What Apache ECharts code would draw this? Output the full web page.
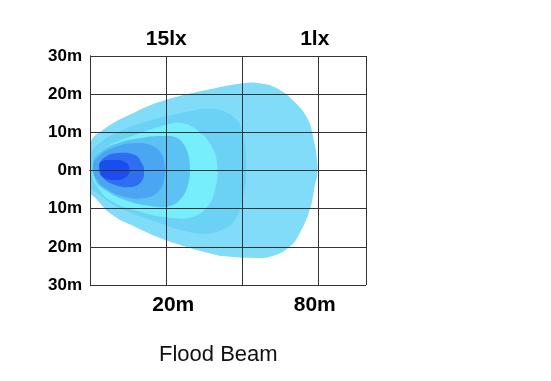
<!DOCTYPE html>
<html>
<head>
<meta charset="utf-8">
<script src="https://cdn.jsdelivr.net/npm/echarts@6/dist/echarts.min.js"></script>
<style>
html,body{margin:0;padding:0;background:#fff;}
#chart{width:551px;height:381px;}
</style>
</head>
<body>
<div id="chart"></div>
<script>
// Tick labels
const xTickLabels = ['', '20m', '', '80m'];
const topTickLabels = ['', '15lx', '', '1lx'];
const yTickLabels = ['30m', '20m', '10m', '0m', '10m', '20m', '30m'];
const titleText = 'Flood Beam';

// Beam contour outlines [x (grid units), y (m)], outermost first
const beam1 = [[0,6.7],[0.18,10.8],[0.59,15.27],[0.98,18.41],[1.64,21.54],[2.01,22.85],[2.23,22.85],[2.45,21.54],[2.66,18.41],[2.85,13.71],[2.93,8.49],[2.98,2.22],[2.98,-1.17],[2.95,-3.79],[2.89,-9.79],[2.76,-16.06],[2.62,-19.97],[2.36,-22.59],[2.10,-22.85],[1.84,-22.59],[1.64,-22.06],[0.98,-18.15],[0.59,-14.75],[0.29,-11.62],[0.07,-7.2],[0,-5.6]];
const beam2 = [[0,3.8],[0.13,7.2],[0.39,10.3],[0.79,13.19],[1.25,15.27],[1.57,16.2],[1.81,15.0],[1.97,11.88],[2.03,6.66],[2.05,0.13],[2.01,-6.40],[1.90,-12.92],[1.73,-15.54],[1.51,-16.58],[1.18,-15.54],[0.79,-12.92],[0.39,-9.8],[0.13,-6.4],[0,-3.8]];
const beam3 = [[0.03,1.44],[0.09,4.05],[0.26,6.66],[0.59,9.27],[0.98,11.88],[1.22,12.40],[1.44,10.05],[1.60,6.14],[1.67,0.91],[1.64,-5.09],[1.54,-9.53],[1.35,-12.14],[1.05,-12.40],[0.66,-10.84],[0.26,-7.70],[0.08,-3.79],[0.03,-1.17]];
const beam4 = [[0.04,2.22],[0.13,4.83],[0.33,6.92],[0.66,8.49],[0.98,9.01],[1.14,8.49],[1.25,6.14],[1.31,1.44],[1.29,-3.26],[1.21,-6.92],[1.05,-9.27],[0.79,-9.27],[0.46,-7.70],[0.20,-5.09],[0.07,-2.48]];
const beam5 = [[0.04,1.44],[0.13,4.05],[0.33,6.14],[0.59,7.18],[0.79,6.66],[0.92,4.83],[0.98,1.44],[0.97,-2.48],[0.89,-5.61],[0.72,-7.18],[0.46,-6.92],[0.24,-5.09],[0.09,-2.48]];
const beam6 = [[0.12,0.65],[0.18,3.26],[0.37,4.57],[0.59,4.05],[0.67,2.22],[0.71,-0.13],[0.67,-3.00],[0.54,-4.31],[0.33,-3.79],[0.16,-1.70]];
const beam7 = [[0.13,0.13],[0.14,2.22],[0.30,2.74],[0.46,2.22],[0.52,0.13],[0.47,-1.70],[0.34,-2.48],[0.17,-1.70]];

const beams = [beam1, beam2, beam3, beam4, beam5, beam6, beam7];
const beamColors = ['#80dcf8', '#6cd2f5', '#76eefb', '#5cc2f4', '#4aa6f2', '#2d6ef2', '#1a4cee'];

const FONT = '"Liberation Sans", Arial, sans-serif';

function tickText(labels, v) {
  const i = Math.round(v);
  if (Math.abs(v - i) > 1e-6) return '';
  return labels[i] || '';
}

const chart = echarts.init(document.getElementById('chart'), null, { renderer: 'canvas' });

const axisLineStyle = { show: true, lineStyle: { color: '#333', width: 1 } };
const splitLineStyle = { show: true, lineStyle: { color: '#333', width: 1 } };

const bottomRich = {
  s1: { fontSize: 21, fontWeight: 'bold', fontFamily: FONT, color: '#000', padding: [0, 0, 0, 14] },
  s3: { fontSize: 21, fontWeight: 'bold', fontFamily: FONT, color: '#000', padding: [0, 8, 0, 0] }
};
const topRich = {
  s1: { fontSize: 21, fontWeight: 'bold', fontFamily: FONT, color: '#000', padding: [0, 0, 0, 0] },
  s3: { fontSize: 21, fontWeight: 'bold', fontFamily: FONT, color: '#000', padding: [0, 8, 0, 0] }
};

chart.setOption({
  animation: false,
  backgroundColor: '#fff',
  title: {
    text: titleText,
    left: 159,
    top: 344,
    padding: 0,
    textStyle: { fontSize: 22, fontWeight: 'normal', fontFamily: FONT, color: '#111' }
  },
  grid: { left: 90, right: 185, top: 56, bottom: 96 },
  xAxis: [{
    type: 'value', position: 'bottom', min: 0, max: 3.62, interval: 1, z: 10,
    axisLine: axisLineStyle, axisTick: { show: false }, splitLine: splitLineStyle,
    axisLabel: {
      margin: 10, fontSize: 21, fontWeight: 'bold', fontFamily: FONT, color: '#000',
      rich: bottomRich,
      formatter: v => { const t = tickText(xTickLabels, v); return t ? '{s' + Math.round(v) + '|' + t + '}' : ''; }
    }
  }, {
    type: 'value', position: 'top', min: 0, max: 3.62, interval: 1, z: 10,
    axisLine: axisLineStyle, axisTick: { show: false }, splitLine: { show: false },
    axisLabel: {
      margin: 6, fontSize: 21, fontWeight: 'bold', fontFamily: FONT, color: '#000',
      rich: topRich,
      formatter: v => { const t = tickText(topTickLabels, v); return t ? '{s' + Math.round(v) + '|' + t + '}' : ''; }
    }
  }],
  yAxis: [{
    type: 'value', position: 'left', min: -30, max: 30, interval: 10, z: 10,
    axisLine: axisLineStyle, axisTick: { show: false }, splitLine: splitLineStyle,
    axisLabel: {
      margin: 8, fontSize: 17, fontWeight: 'bold', fontFamily: FONT, color: '#000',
      formatter: v => tickText(yTickLabels, (v + 30) / 10)
    }
  }, {
    type: 'value', position: 'right', min: -30, max: 30, interval: 10, z: 10,
    axisLine: axisLineStyle, axisTick: { show: false }, splitLine: { show: false },
    axisLabel: { show: false }
  }],
  series: beams.map((pts, k) => ({
    type: 'custom',
    clip: true,
    silent: true,
    z: 2,
    xAxisIndex: 0,
    yAxisIndex: 0,
    encode: { x: 0, y: 1 },
    data: pts,
    renderItem: (params, api) => {
      if (params.dataIndex !== 0) return null;
      const poly = pts.map(p => api.coord(p));
      return {
        type: 'polygon',
        shape: { points: poly, smooth: 0.45 },
        style: { fill: beamColors[k], stroke: null }
      };
    }
  }))
});
</script>
</body>
</html>
